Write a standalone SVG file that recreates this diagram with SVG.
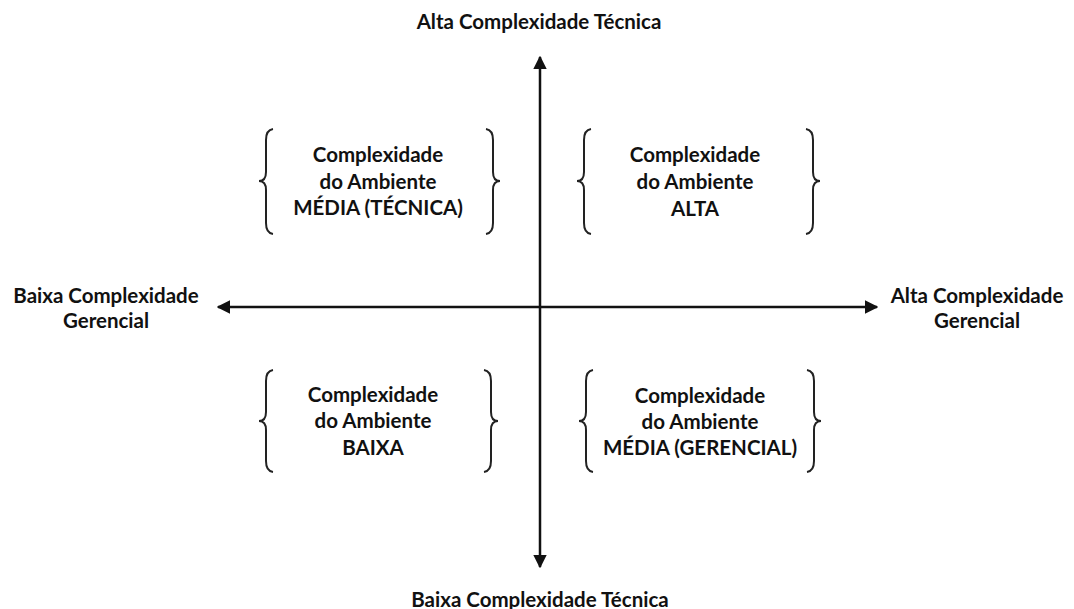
<svg xmlns="http://www.w3.org/2000/svg" width="1074" height="609" viewBox="0 0 1074 609">
<style>
text{font-family:"Lato","Liberation Sans",sans-serif;font-weight:700;font-size:20.5px;fill:#111;text-anchor:middle}
.br{fill:none;stroke:#222;stroke-width:2}
.ax{stroke:#111;stroke-width:2.5;fill:none}
</style>
<defs>
<marker id="ah" viewBox="0 0 10 10" refX="9" refY="5" markerWidth="5.5" markerHeight="5.5" orient="auto-start-reverse" markerUnits="strokeWidth">
<path d="M0,0 L10,5 L0,10 z" fill="#111"/>
</marker>
</defs>
<rect width="1074" height="609" fill="#fff"/>
<g id="connectors">
<line class="ax" x1="540" y1="57" x2="540" y2="567" marker-start="url(#ah)" marker-end="url(#ah)"/>
<line class="ax" x1="218" y1="307" x2="877" y2="307" marker-start="url(#ah)" marker-end="url(#ah)"/>
</g>
<g id="axis-top"><text x="539" y="29">Alta Complexidade Técnica</text></g>
<g id="axis-bottom"><text x="540" y="607">Baixa Complexidade Técnica</text></g>
<g id="axis-left"><text x="106" y="303">Baixa Complexidade</text><text x="106" y="328">Gerencial</text></g>
<g id="axis-right"><text x="977" y="303">Alta Complexidade</text><text x="977" y="328">Gerencial</text></g>
<g id="q-top-left">
<path class="br" d="M273,129 Q266,130 266,140 L266,172 Q266,181 259,181 Q266,181 266,190 L266,223 Q266,233 273,234"/>
<path class="br" d="M486,129 Q493,130 493,140 L493,172 Q493,181 500,181 Q493,181 493,190 L493,223 Q493,233 486,234"/>
<text x="378" y="162">Complexidade</text><text x="378" y="189">do Ambiente</text><text x="378" y="215">MÉDIA (TÉCNICA)</text>
</g>
<g id="q-top-right">
<path class="br" d="M591,129 Q584,130 584,140 L584,172 Q584,181 577,181 Q584,181 584,190 L584,223 Q584,233 591,234"/>
<path class="br" d="M806,129 Q813,130 813,140 L813,172 Q813,181 820,181 Q813,181 813,190 L813,223 Q813,233 806,234"/>
<text x="695" y="162">Complexidade</text><text x="695" y="189">do Ambiente</text><text x="695" y="216">ALTA</text>
</g>
<g id="q-bottom-left">
<path class="br" d="M273,370 Q266,371 266,381 L266,412 Q266,421 259,421 Q266,421 266,430 L266,461 Q266,471 273,472"/>
<path class="br" d="M484,370 Q491,371 491,381 L491,412 Q491,421 498,421 Q491,421 491,430 L491,461 Q491,471 484,472"/>
<text x="373" y="402">Complexidade</text><text x="373" y="428">do Ambiente</text><text x="373" y="455">BAIXA</text>
</g>
<g id="q-bottom-right">
<path class="br" d="M593,370 Q586,371 586,381 L586,412 Q586,421 579,421 Q586,421 586,430 L586,461 Q586,471 593,472"/>
<path class="br" d="M807,370 Q814,371 814,381 L814,412 Q814,421 821,421 Q814,421 814,430 L814,461 Q814,471 807,472"/>
<text x="700" y="403">Complexidade</text><text x="700" y="429">do Ambiente</text><text x="700" y="455">MÉDIA (GERENCIAL)</text>
</g>
</svg>
